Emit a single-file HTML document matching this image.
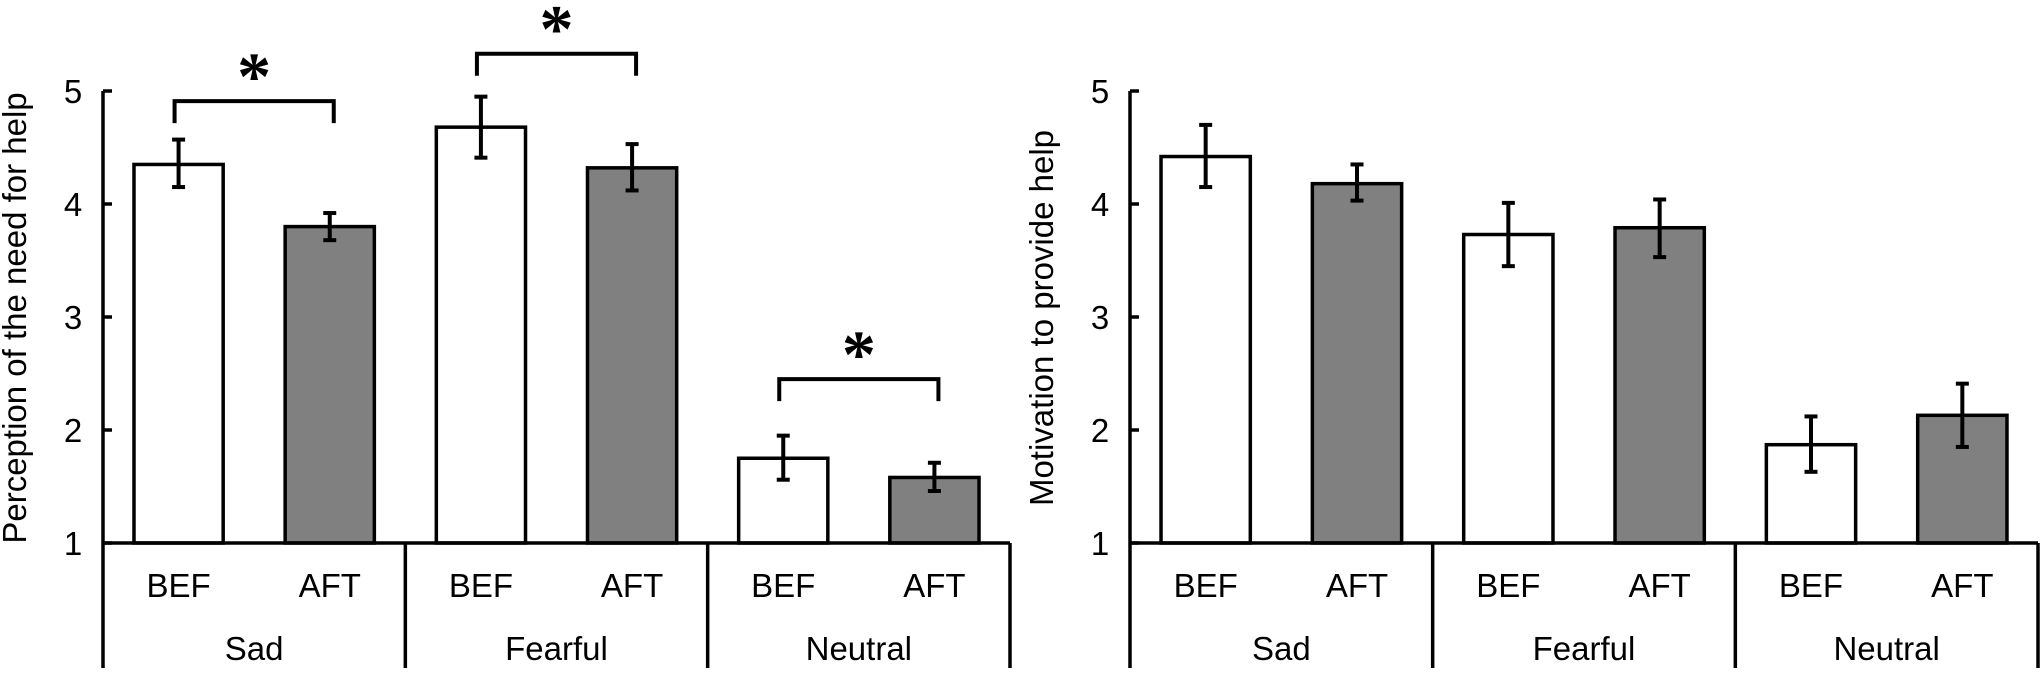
<!DOCTYPE html>
<html><head><meta charset="utf-8"><style>
html,body{margin:0;padding:0;background:#fff;}
svg{display:block;font-family:"Liberation Sans",Arial,sans-serif;}
</style></head><body>
<svg id="chart" width="2043" height="698" viewBox="0 0 2043 698" xmlns="http://www.w3.org/2000/svg"></svg>
<script>
const groups = ["Sad", "Fearful", "Neutral"];
const conditions = ["BEF", "AFT"];
const yTicks = [1, 2, 3, 4, 5];
const leftTitle = "Perception of the need for help";
const rightTitle = "Motivation to provide help";
const leftMeans = [4.35, 3.80, 4.68, 4.32, 1.75, 1.58];
const leftErrLow = [4.15, 3.68, 4.41, 4.12, 1.56, 1.46];
const leftErrHigh = [4.57, 3.92, 4.95, 4.53, 1.95, 1.71];
const rightMeans = [4.42, 4.18, 3.73, 3.79, 1.87, 2.13];
const rightErrLow = [4.15, 4.03, 3.45, 3.53, 1.63, 1.85];
const rightErrHigh = [4.70, 4.35, 4.01, 4.04, 2.12, 2.41];
const sigGroups = [0, 1, 2];
const sigBracketValues = [4.91, 5.33, 2.45];

const svg = document.getElementById('chart');
const NS = 'http://www.w3.org/2000/svg';
function mk(tag, attrs, parent) {
  const e = document.createElementNS(NS, tag);
  for (const k in attrs) e.setAttribute(k, attrs[k]);
  (parent || svg).appendChild(e);
  return e;
}

function drawPanel(cfg) {
  const g = mk('g', {});
  
  
  const x0 = cfg.x0, x1 = cfg.x1, yTop = 91, yBot = 543, yMin = 1, yMax = 5;
  const yS = v => yBot - (v - yMin) / (yMax - yMin) * (yBot - yTop);
  const n = groups.length * conditions.length;
  const slot = (x1 - x0) / n;
  const xC = i => x0 + slot * (i + 0.5);
  const bw = slot * 0.59;

  for (let i = 0; i < n; i++) {
    const v = cfg.means[i];
    const r = mk('rect', {x: xC(i) - bw / 2, y: yS(v), width: bw, height: yBot - yS(v),
      fill: i % 2 === 0 ? '#ffffff' : '#808080', stroke: '#000', 'stroke-width': 3.5}, g);
    
    
  }
  for (let i = 0; i < n; i++) {
    const eg = mk('g', {stroke: '#000', 'stroke-width': 4}, g);
    
    
    const c = xC(i), lo = yS(cfg.lo[i]), hi = yS(cfg.hi[i]);
    mk('line', {x1: c, x2: c, y1: lo, y2: hi}, eg);
    mk('line', {x1: c - 6.5, x2: c + 6.5, y1: lo, y2: lo}, eg);
    mk('line', {x1: c - 6.5, x2: c + 6.5, y1: hi, y2: hi}, eg);
  }
  const ax = mk('g', {stroke: '#000', 'stroke-width': 3.5}, g);
  
  
  mk('line', {x1: x0, x2: x0, y1: yTop, y2: 668}, ax);
  mk('line', {x1: x0, x2: x1, y1: yBot, y2: yBot}, ax);
  for (let k = 1; k <= groups.length; k++) {
    const xs = x0 + slot * 2 * k;
    mk('line', {x1: xs, x2: xs, y1: yBot, y2: 668}, ax);
  }
  yTicks.forEach(t => {
    mk('line', {x1: x0, x2: x0 + 9, y1: yS(t), y2: yS(t)}, ax);
    const tl = mk('text', {x: x0 - 30, y: yS(t) + 12, 'font-size': 33, 'text-anchor': 'middle'}, g);
    tl.textContent = t;
    
    
  });
  for (let i = 0; i < n; i++) {
    const t = mk('text', {x: xC(i), y: 597, 'font-size': 33, 'text-anchor': 'middle'}, g);
    t.textContent = conditions[i % 2];
    
    
  }
  groups.forEach((gr, k) => {
    const t = mk('text', {x: x0 + slot * (2 * k + 1), y: 660, 'font-size': 33, 'text-anchor': 'middle'}, g);
    t.textContent = gr;
    
    
  });
  const tt = mk('text', {x: 0, y: 0, 'font-size': 33, 'text-anchor': 'middle',
    transform: 'translate(' + (cfg.titleX) + ',' + 318 + ') rotate(-90)'}, g);
  tt.textContent = cfg.title;
  
  

  if (cfg.sig) {
    sigGroups.forEach((k, j) => {
      const sg = mk('g', {}, g);
      
      
      const a = xC(2 * k) - 4, b = xC(2 * k + 1) + 4, yb = yS(sigBracketValues[j]);
      mk('polyline', {points: a + ',' + (yb + 22) + ' ' + a + ',' + yb + ' ' + b + ',' + yb + ' ' + b + ',' + (yb + 22),
        fill: 'none', stroke: '#000', 'stroke-width': 4}, sg);
      const s = mk('text', {x: (a + b) / 2, y: yb - 2, 'font-size': 68, 'font-weight': 'bold',
        'text-anchor': 'middle', 'font-family': '"Liberation Serif",serif'}, sg);
      s.textContent = '*';
    });
  }
}

drawPanel({name: 'left-panel', x0: 103, x1: 1010, means: leftMeans, lo: leftErrLow, hi: leftErrHigh, title: leftTitle, titleX: 26, sig: true});
drawPanel({name: 'right-panel', x0: 1130, x1: 2038, means: rightMeans, lo: rightErrLow, hi: rightErrHigh, title: rightTitle, titleX: 1053, sig: false});
</script>
</body></html>
